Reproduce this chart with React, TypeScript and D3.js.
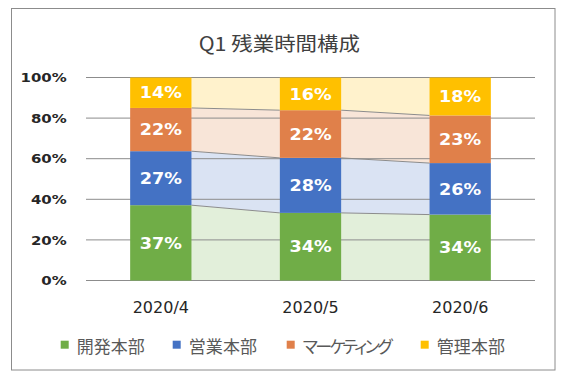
import * as d3 from "d3";

const categories = ["2020/4", "2020/5", "2020/6"];
const seriesNames = ["開発本部", "営業本部", "マーケティング", "管理本部"];
// share of overtime hours (bar heights)
const devValues = [37.1, 33.3, 32.5];
const salesValues = [26.6, 27.1, 25.4];
const marketingValues = [21.3, 23.5, 23.5];
const adminValues = [15.0, 16.1, 18.7];
// data labels as printed on the bars
const devLabels = [37, 34, 34];
const salesLabels = [27, 28, 26];
const marketingLabels = [22, 22, 23];
const adminLabels = [14, 16, 18];
const yTicks = [0, 0.2, 0.4, 0.6, 0.8, 1];

const barColors = ["#70AD47", "#4472C4", "#E0804A", "#FFC000"];
const fillColors = ["#E2EFDA", "#DAE3F3", "#F8E5D8", "#FFF2CC"];
const legendX = [60.7, 172.7, 286.7, 420.7];
const legendTextWidth = [68, 68.3, 90, 68.3];

const width = 566;
const height = 387;
const marginLeft = 86;
const marginRight = 31;
const marginTop = 77.5;
const marginBottom = 106.5;

export default function App() {
  const values = [devValues, salesValues, marketingValues, adminValues];
  const labels = [devLabels, salesLabels, marketingLabels, adminLabels];
  const rows = categories.map((c, i) => {
    const r: any = { category: c };
    seriesNames.forEach((s, k) => (r[s] = values[k][i]));
    return r;
  });
  const stacked = d3
    .stack<any>()
    .keys(seriesNames)
    .offset(d3.stackOffsetExpand)(rows);

  const x = d3
    .scaleBand(categories, [marginLeft, width - marginRight])
    .paddingInner(0.59)
    .paddingOuter(0.295);
  const y = d3.scaleLinear([0, 1], [height - marginBottom, marginTop]);
  const bw = x.bandwidth();

  // bands between neighbouring bars
  const gaps = d3.pairs(d3.range(categories.length));
  const area = d3
    .area<[number, number, number]>()
    .x((d) => d[0])
    .y0((d) => y(d[1]))
    .y1((d) => y(d[2]));

  const stretch = (sx: number, tx: number, ty: number) =>
    `translate(${tx},${ty}) scale(${sx},1)`;

  return (
    <svg
      width={width}
      height={height}
      style={{ position: "absolute", left: 0, top: 0, background: "#fff" }}
    >
      <rect x={11.5} y={8.5} width={543.5} height={361.5} fill="#fff" stroke="#8C8C8C" />

      <text
        transform={stretch(1.1, 279.3, 42)}
        textAnchor="middle"
        dominantBaseline="central"
        fontFamily="'Noto Sans CJK JP'"
        fontSize={19.5}
        fill="#404040"
      >
        Q1 残業時間構成
      </text>

      {stacked.map((s, k) => (
        <g key={s.key}>
          {gaps.map(([a, b]) => (
            <path
              key={a}
              fill={fillColors[k]}
              d={
                area([
                  [x(categories[a])! + bw, s[a][0], s[a][1]],
                  [x(categories[b])!, s[b][0], s[b][1]],
                ]) ?? ""
              }
            />
          ))}
        </g>
      ))}

      <g stroke="#8C8C8C" strokeWidth={1}>
        {yTicks.map((t) => (
          <line key={t} x1={marginLeft} x2={width - marginRight} y1={y(t)} y2={y(t)} />
        ))}
      </g>

      <g stroke="#8C8C8C" strokeWidth={1}>
        {stacked.slice(0, 3).map((s) =>
          gaps.map(([a, b]) => (
            <line
              key={s.key + a}
              x1={x(categories[a])! + bw}
              x2={x(categories[b])!}
              y1={y(s[a][1])}
              y2={y(s[b][1])}
            />
          ))
        )}
      </g>

      {stacked.map((s, k) => (
        <g key={s.key} fill={barColors[k]}>
          {s.map((d, i) => (
            <rect
              key={i}
              x={x(categories[i])}
              y={y(d[1])}
              width={bw}
              height={y(d[0]) - y(d[1])}
            />
          ))}
        </g>
      ))}

      {stacked.map((s, k) => (
        <g key={s.key} fill="#fff" fontFamily="'DejaVu Sans'" fontWeight="bold" fontSize={16}>
          {s.map((d, i) => (
            <text
              key={i}
              transform={stretch(1.1, x(categories[i])! + bw / 2, y((d[0] + d[1]) / 2))}
              textAnchor="middle"
              dominantBaseline="central"
            >
              {labels[k][i]}%
            </text>
          ))}
        </g>
      ))}

      <g fontFamily="'DejaVu Sans'" fontWeight="bold" fontSize={13} fill="#262626">
        {yTicks.map((t) => (
          <text
            key={t}
            transform={stretch(1.15, 66.7, y(t))}
            textAnchor="end"
            dominantBaseline="central"
          >
            {d3.format(".0%")(t)}
          </text>
        ))}
      </g>

      <g fontFamily="'DejaVu Sans'" fontSize={16} fill="#262626">
        {categories.map((c) => (
          <text key={c} x={x(c)! + bw / 2} y={313.3} textAnchor="middle">
            {c}
          </text>
        ))}
      </g>

      <g fontFamily="'Noto Sans CJK JP'" fontSize={17} fill="#595959">
        {seriesNames.map((s, k) => (
          <g key={s}>
            <rect x={legendX[k]} y={340.7} width={8} height={8} fill={barColors[k]} />
            <text
              x={legendX[k] + 16}
              y={345}
              dominantBaseline="central"
              textLength={legendTextWidth[k]}
              lengthAdjust="spacing"
              style={{ fontFeatureSettings: "'palt'" }}
            >
              {s}
            </text>
          </g>
        ))}
      </g>
    </svg>
  );
}
